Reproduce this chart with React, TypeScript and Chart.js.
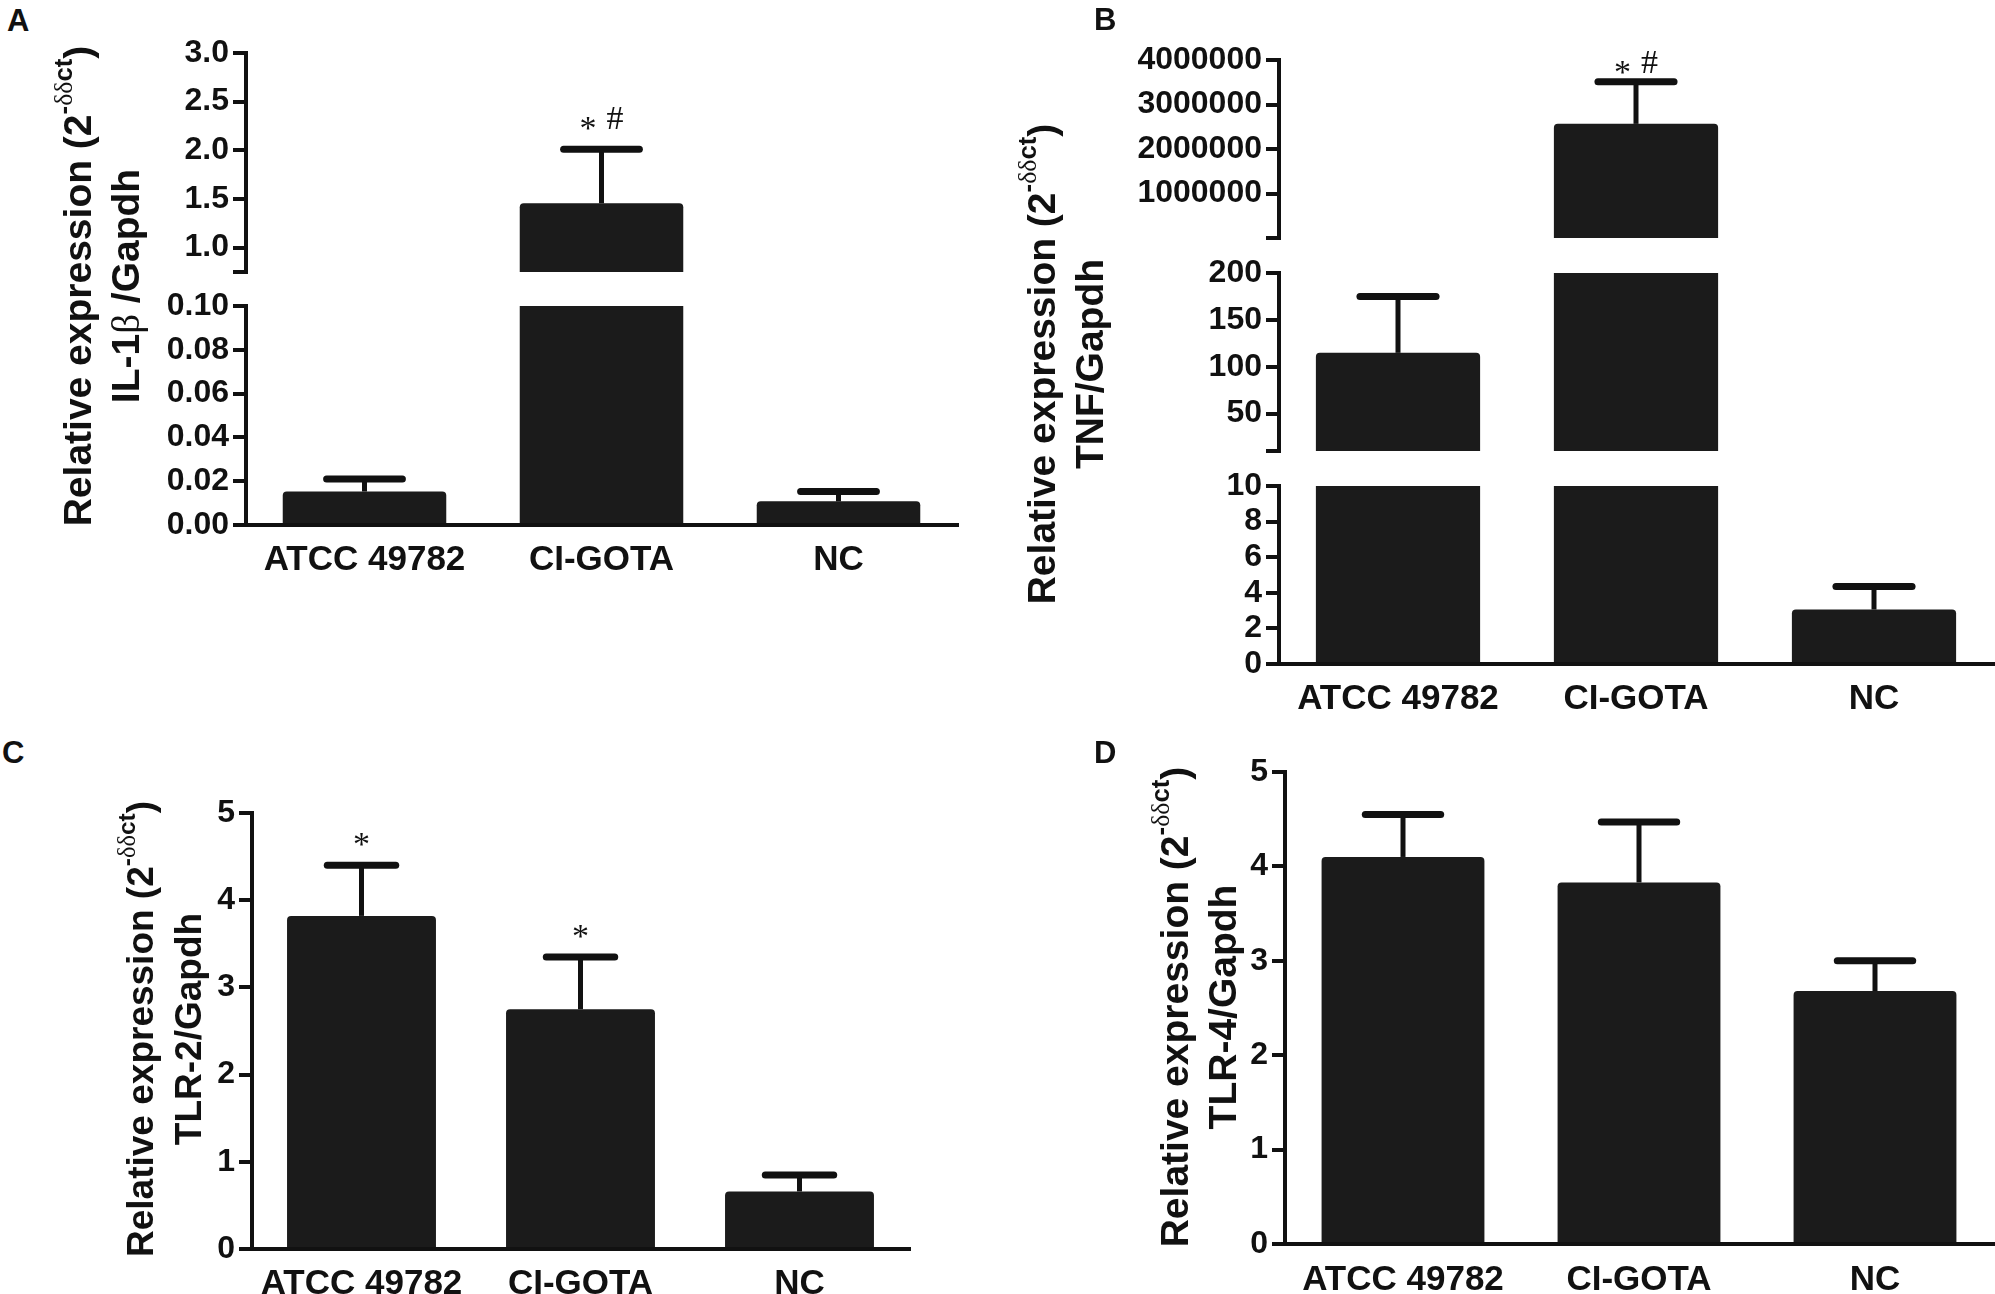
import React, { useEffect, useRef } from 'react';
import { Chart, registerables } from 'chart.js';

Chart.register(...registerables);

// ---------- data ----------
const categories = ['ATCC 49782', 'CI-GOTA', 'NC'];

// Panel A: IL-1β / Gapdh
const meanA = [0.0153, 1.456, 0.0108];
const semA = [0.0057, 0.554, 0.0045];
const marksA = ['', '* #', ''];
const ticksAUpper = [1.0, 1.5, 2.0, 2.5, 3.0];
const ticksALower = [0, 0.02, 0.04, 0.06, 0.08, 0.1];
const rangeAUpper = [0.75, 3.0];
const rangeALower = [0, 0.1];

// Panel B: TNF / Gapdh
const meanB = [114.8, 2565000, 3.06];
const semB = [60.2, 945000, 1.29];
const marksB = ['', '* #', ''];
const ticksBTop = [1000000, 2000000, 3000000, 4000000];
const ticksBMid = [50, 100, 150, 200];
const ticksBLow = [0, 2, 4, 6, 8, 10];
const rangeBTop = [200, 4000000];
const rangeBMid = [10, 200];
const rangeBLow = [0, 10];

// Panel C: TLR-2 / Gapdh
const meanC = [3.82, 2.75, 0.66];
const semC = [0.58, 0.6, 0.19];
const marksC = ['*', '*', ''];
const ticksC = [0, 1, 2, 3, 4, 5];
const rangeC = [0, 5];

// Panel D: TLR-4 / Gapdh
const meanD = [4.1, 3.83, 2.68];
const semD = [0.45, 0.64, 0.32];
const marksD = ['', '', ''];
const ticksD = [0, 1, 2, 3, 4, 5];
const rangeD = [0, 5];

// ---------- styles ----------
const INK = '#111111';
const BAR = '#1b1b1b';
const SANS = '"Liberation Sans", Arial, Helvetica, sans-serif';
const SERIF = '"Liberation Serif", "Times New Roman", serif';

type Seg = {
  left: number; right: number; top: number; bottom: number;
  range: number[]; ticks: number[]; decimals: number;
  showX: boolean; barPct: number; labelPad: number; markGap: number;
  means: number[]; sems: number[]; marks: string[];
};

const errorBarPlugin = {
  id: 'errbars',
  afterDatasetsDraw(chart: any, _args: any, opts: any) {
    const { ctx, chartArea: a } = chart;
    const xs = chart.scales.x;
    const ys = chart.scales.y;
    const meta = chart.getDatasetMeta(0);
    const means: number[] = opts.means;
    const sems: number[] = opts.sems;
    const marks: string[] = opts.marks;
    ctx.save();
    ctx.beginPath();
    ctx.rect(a.left, a.top - 10, a.right - a.left, a.bottom - a.top + 10);
    ctx.clip();
    ctx.strokeStyle = INK;
    means.forEach((m, i) => {
      if (m < ys.min) return;
      const hi = m + sems[i];
      const x = xs.getPixelForValue(i);
      const y0 = ys.getPixelForValue(m);
      const y1 = ys.getPixelForValue(hi);
      ctx.lineWidth = 5;
      ctx.lineCap = 'butt';
      ctx.beginPath();
      ctx.moveTo(x, y0);
      ctx.lineTo(x, y1);
      ctx.stroke();
      if (hi <= ys.max) {
        const w = meta.data[i].width / 4 - 3;
        ctx.lineWidth = 7;
        ctx.lineCap = 'round';
        ctx.beginPath();
        ctx.moveTo(x - w, y1);
        ctx.lineTo(x + w, y1);
        ctx.stroke();
      }
    });
    ctx.restore();
    // significance marks
    ctx.save();
    ctx.fillStyle = INK;
    ctx.font = `34px ${SERIF}`;
    ctx.textBaseline = 'alphabetic';
    ctx.textAlign = 'left';
    means.forEach((m, i) => {
      const mark = marks[i];
      if (!mark || m < ys.min) return;
      const hi = m + sems[i];
      if (hi > ys.max) return;
      const x = xs.getPixelForValue(i);
      const base = ys.getPixelForValue(hi) - opts.gap;
      const parts = mark.split(' ');
      const gap = 10;
      const widths = parts.map((p) => ctx.measureText(p).width);
      const total = widths.reduce((s, v) => s + v, 0) + gap * (parts.length - 1);
      let cx = x - total / 2;
      parts.forEach((p, k) => {
        ctx.fillText(p, cx, p === '*' ? base + 10 : base);
        cx += widths[k] + gap;
      });
    });
    ctx.restore();
  },
};

function fmt(v: number, d: number) {
  return d > 0 ? v.toFixed(d) : String(Math.round(v));
}

function SegmentChart({ seg }: { seg: Seg }) {
  const ref = useRef<HTMLCanvasElement>(null);
  const LW = 200;
  const TP = 40;
  const RP = 2;
  const BP = seg.showX ? 70 : 40;
  const w = LW + (seg.right - seg.left) + RP;
  const h = TP + (seg.bottom - seg.top) + BP;

  useEffect(() => {
    const [mn, mx] = seg.range;
    const all = Array.from(new Set([mn, ...seg.ticks])).sort((p, q) => p - q);
    const chart = new Chart(ref.current as HTMLCanvasElement, {
      type: 'bar',
      data: {
        labels: categories,
        datasets: [
          {
            data: seg.means,
            backgroundColor: BAR,
            borderWidth: 0,
            borderRadius: 4,
            borderSkipped: 'start',
            barPercentage: seg.barPct,
            categoryPercentage: 1,
            clip: 0,
          } as any,
        ],
      },
      options: {
        responsive: false,
        animation: false,
        events: [],
        layout: { padding: { top: TP, right: RP, left: 0, bottom: seg.showX ? 0 : BP } },
        plugins: {
          legend: { display: false },
          tooltip: { enabled: false },
          errbars: { means: seg.means, sems: seg.sems, marks: seg.marks, gap: seg.markGap },
        } as any,
        scales: {
          x: {
            type: 'category',
            display: seg.showX,
            offset: true,
            grid: { display: true, drawOnChartArea: false, drawTicks: false, lineWidth: 4, color: INK },
            border: { display: true, width: 4, color: INK },
            ticks: {
              color: INK,
              font: { family: SANS, size: 35, weight: 'bold' },
              padding: seg.labelPad,
              maxRotation: 0,
              minRotation: 0,
              autoSkip: false,
            },
            afterFit: (s: any) => { s.height = seg.showX ? BP : 0; },
          },
          y: {
            type: 'linear',
            min: mn,
            max: mx,
            bounds: 'data',
            afterBuildTicks: (s: any) => { s.ticks = all.map((v) => ({ value: v })); },
            ticks: {
              color: INK,
              font: { family: SANS, size: 32, weight: 'bold' },
              padding: 4,
              autoSkip: false,
              callback: (v: any) => (seg.ticks.includes(Number(v)) ? fmt(Number(v), seg.decimals) : ''),
            },
            grid: {
              display: true, drawOnChartArea: false, drawTicks: true,
              tickLength: 13, tickWidth: 4, tickColor: INK, lineWidth: 4, color: INK,
            },
            border: { display: true, width: 4, color: INK },
            afterFit: (s: any) => { s.width = LW; },
          },
        } as any,
      },
      plugins: [errorBarPlugin as any],
    });
    return () => chart.destroy();
  }, []);

  return (
    <canvas
      ref={ref}
      width={w}
      height={h}
      style={{ position: 'absolute', left: seg.left - LW, top: seg.top - TP, width: w, height: h }}
    />
  );
}

function YTitle({ cx, cy, size, children }: { cx: number; cy: number; size: number; children: any }) {
  return (
    <div
      style={{
        position: 'absolute', left: cx - 350, top: cy - 48, width: 700, height: 96,
        lineHeight: '48px', fontSize: size, fontWeight: 'bold', fontFamily: SANS,
        textAlign: 'center', transform: 'rotate(-90deg)', whiteSpace: 'nowrap', color: INK,
      }}
    >
      <div>
        Relative expression (2
        <span style={{ fontSize: '0.66em', position: 'relative', top: '-0.75em', lineHeight: 0 }}>
          -<span style={{ fontFamily: SERIF, fontWeight: 'normal' }}>δδ</span>ct
        </span>
        )
      </div>
      <div>{children}</div>
    </div>
  );
}

function Letter({ x, y, t }: { x: number; y: number; t: string }) {
  return (
    <div style={{ position: 'absolute', left: x, top: y, fontFamily: SANS, fontWeight: 'bold', fontSize: 31, lineHeight: '31px', color: INK }}>
      {t}
    </div>
  );
}

const segA: Seg[] = [
  { left: 246, right: 957, top: 53, bottom: 272, range: rangeAUpper, ticks: ticksAUpper, decimals: 1, showX: false, barPct: 0.69, labelPad: 14, markGap: 20, means: meanA, sems: semA, marks: marksA },
  { left: 246, right: 957, top: 306, bottom: 525, range: rangeALower, ticks: ticksALower, decimals: 2, showX: true, barPct: 0.69, labelPad: 14, markGap: 20, means: meanA, sems: semA, marks: marksA },
];
const segB: Seg[] = [
  { left: 1279, right: 1993, top: 60, bottom: 238, range: rangeBTop, ticks: ticksBTop, decimals: 0, showX: false, barPct: 0.69, labelPad: 14, markGap: 9, means: meanB, sems: semB, marks: marksB },
  { left: 1279, right: 1993, top: 273, bottom: 451, range: rangeBMid, ticks: ticksBMid, decimals: 0, showX: false, barPct: 0.69, labelPad: 14, markGap: 9, means: meanB, sems: semB, marks: marksB },
  { left: 1279, right: 1993, top: 486, bottom: 664, range: rangeBLow, ticks: ticksBLow, decimals: 0, showX: true, barPct: 0.69, labelPad: 14, markGap: 9, means: meanB, sems: semB, marks: marksB },
];
const segC: Seg = { left: 252, right: 909, top: 813, bottom: 1249, range: rangeC, ticks: ticksC, decimals: 0, showX: true, barPct: 0.68, labelPad: 14, markGap: 20, means: meanC, sems: semC, marks: marksC };
const segD: Seg = { left: 1285, right: 1993, top: 772, bottom: 1244, range: rangeD, ticks: ticksD, decimals: 0, showX: true, barPct: 0.69, labelPad: 15, markGap: 20, means: meanD, sems: semD, marks: marksD };

export default function App() {
  useEffect(() => {
    document.body.style.margin = '0';
    document.body.style.overflow = 'hidden';
    document.body.style.background = '#ffffff';
  }, []);
  return (
    <div style={{ position: 'absolute', left: 0, top: 0, width: 1995, height: 1294, overflow: 'hidden', background: '#ffffff' }}>
      {segA.map((s, i) => <SegmentChart key={'a' + i} seg={s} />)}
      {segB.map((s, i) => <SegmentChart key={'b' + i} seg={s} />)}
      <SegmentChart seg={segC} />
      <SegmentChart seg={segD} />

      <YTitle cx={102} cy={286} size={39}>
        IL-1<span style={{ fontFamily: SERIF, fontWeight: 'normal' }}>β</span> /Gapdh
      </YTitle>
      <YTitle cx={1066} cy={364} size={39}>TNF/Gapdh</YTitle>
      <YTitle cx={165} cy={1029} size={37}>TLR-2/Gapdh</YTitle>
      <YTitle cx={1199} cy={1007} size={39}>TLR-4/Gapdh</YTitle>

      <Letter x={7} y={5} t="A" />
      <Letter x={1094} y={4} t="B" />
      <Letter x={2} y={737} t="C" />
      <Letter x={1094} y={737} t="D" />
    </div>
  );
}
